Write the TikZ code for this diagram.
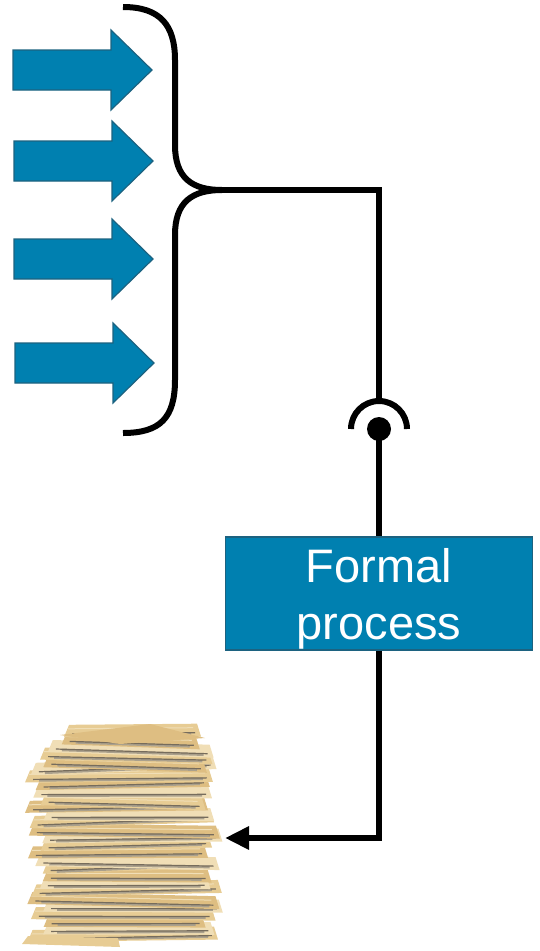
\documentclass[tikz,border=0pt]{standalone}
\usepackage{fontspec}
\setmainfont{Liberation Sans}
\usetikzlibrary{arrows.meta,calc}
\definecolor{procblue}{RGB}{0,128,176}
\definecolor{procedge}{RGB}{28,98,128}
\definecolor{paper0}{RGB}{231,204,148}
\definecolor{paper1}{RGB}{240,222,182}
\definecolor{paper2}{RGB}{222,190,130}
\definecolor{paperedge}{RGB}{118,108,92}
\definecolor{papergrey}{RGB}{170,160,140}

\tikzset{
	wire/.style={line width=6pt},
	inarrow/.style={fill=procblue, draw=procedge, line width=1.2pt},
	procbox/.style={fill=procblue, draw=procedge, line width=1.5pt,
		minimum width=307pt, minimum height=113pt, inner sep=0pt},
	proctext/.style={text=white, align=center, inner sep=0pt,
		font=\fontsize{47}{57}\selectfont},
}

\begin{document}
\begin{tikzpicture}[x=1pt,y=-1pt]
	\useasboundingbox (0,0) rectangle (539,951);
%
	\foreach \y/\x in {70/13,161/14,259/14,363/15}
		\path[inarrow] (\x,\y-20) -- (\x+98,\y-20) -- (\x+98,\y-40) -- (\x+139,\y)
			-- (\x+98,\y+40) -- (\x+98,\y+20) -- (\x,\y+20) -- cycle;
%
	\coordinate (join) at (222,190);
	\coordinate (sock) at (379,429);
	\coordinate (socktop) at (379,401);
	\coordinate (files) at (225,838);
	\node[procbox] (proc) at (379,593.5) {};
	\node[proctext] (proclabel) at (379,599) {Formal\\process};
%
	\draw[wire] (123,7) .. controls (160,7) and (175,25) .. (175,60) -- (175,145)
		.. controls (175,178) and (192,190) .. (join)
		.. controls (192,190) and (175,202) .. (175,235) -- (175,380)
		.. controls (175,418) and (160,433) .. (123,433);
	\draw[wire] (join) -| (socktop);
	\draw[wire] ($(sock)+(-28,0)$) arc[start angle=180, end angle=0, radius=28pt];
	\fill (sock) circle[radius=12pt];
	\draw[wire] (sock) -- (proc.north);
	\draw[wire, -{Triangle[length=24pt,width=22pt]}] (proc.south) |- (files);
%
	% stack of files
	\pgfmathsetseed{12}
	\foreach \i in {0,...,27}{
		\pgfmathsetmacro\yy{942-\i*7.6}
		\pgfmathsetmacro\l{34+rand*10+(\i>22)*(\i-22)*7}
		\pgfmathsetmacro\r{214+rand*9-(\i>24)*(\i-24)*3}
		\pgfmathsetmacro\s{rand*6}
		\pgfmathtruncatemacro\c{mod(\i,3)}
		\fill[paper\c] (\l,\yy) -- (\r,\yy+\s) -- (\r-4,\yy+\s-13) -- (\l+5,\yy-12) -- cycle;
		\draw[papergrey, line width=2.5pt] (\l+14,\yy-2) -- (\r-10,\yy+\s-3);
		\draw[paperedge, line width=1.2pt] (\l+8,\yy-3) -- (\r-6,\yy+\s-4);
		\draw[paper1, line width=1pt] (\l+4,\yy-8) -- (\r-8,\yy+\s-9);
	}
	\fill[paper0] (22,944) -- (120,947) -- (118,938) -- (28,936) -- cycle;
	\fill[paper2] (60,735) -- (150,724) -- (205,738) -- (120,744) -- cycle;
\end{tikzpicture}
\end{document}
